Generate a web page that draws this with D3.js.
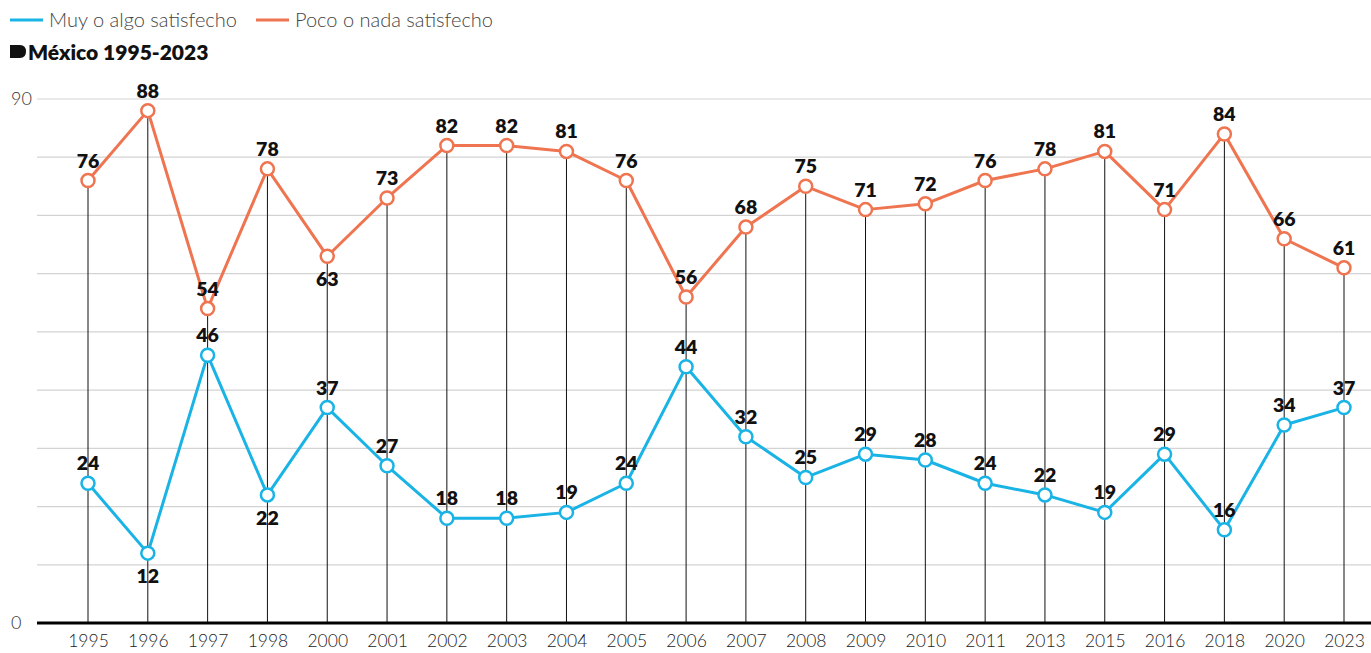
<!DOCTYPE html>
<html><head><meta charset="utf-8">
<script src="https://cdn.jsdelivr.net/npm/d3@7"></script>
<style>
html,body{margin:0;padding:0;background:#fff;}
svg{display:block;}
</style></head>
<body>
<svg id="chart" width="1371" height="653"></svg>
<script>
const years = ["1995","1996","1997","1998","2000","2001","2002","2003","2004","2005","2006","2007","2008","2009","2010","2011","2013","2015","2016","2018","2020","2023"];
const satisfied = [24,12,46,22,37,27,18,18,19,24,44,32,25,29,28,24,22,19,29,16,34,37];
const dissatisfied = [76,88,54,78,63,73,82,82,81,76,56,68,75,71,72,76,78,81,71,84,66,61];
const seriesNames = ["Muy o algo satisfecho","Poco o nada satisfecho"];
const colors = ["#1ab3e6","#ef7450"];
const yTicks = [0,90];
const gridValues = [0,10,20,30,40,50,60,70,80,90];
const title = "México 1995-2023";
// labels placed below the point: [seriesIndex, year]
const belowLabels = [[0,"1996"],[0,"1998"],[1,"2000"]];

const svg = d3.select("#chart");
const font = "Lato, 'Noto Sans', sans-serif";
const plotLeft = 37, plotRight = 1371, yTop = 99, yBottom = 623;

const x = d3.scalePoint().domain(years).range([88,1344]);
const y = d3.scaleLinear().domain([0,90]).range([yBottom,yTop]);

// grid
svg.append("g").selectAll("line").data(gridValues).join("line")
  .attr("x1",plotLeft).attr("x2",plotRight)
  .attr("y1",d=>y(d)).attr("y2",d=>y(d))
  .attr("stroke","#d3d3d3").attr("stroke-width",1.2);

// y tick labels
svg.append("g").selectAll("text").data(yTicks).join("text")
  .attr("x",11).attr("y",d=>y(d)+6)
  .attr("font-family",font).attr("font-size",18).attr("font-weight",300)
  .attr("fill","#333").text(d=>d);

// stems
svg.append("g").selectAll("line").data(years).join("line")
  .attr("x1",d=>x(d)).attr("x2",d=>x(d))
  .attr("y1",(d,i)=>y(Math.max(satisfied[i],dissatisfied[i])))
  .attr("y2",y(0))
  .attr("stroke","#111").attr("stroke-width",1);

// baseline
svg.append("line").attr("x1",plotLeft).attr("x2",plotRight)
  .attr("y1",y(0)).attr("y2",y(0)).attr("stroke","#000").attr("stroke-width",3);

// x axis labels
const xAxis = d3.axisBottom(x).tickSize(0).tickPadding(0);
const gx = svg.append("g").attr("transform",`translate(0,${y(0)})`).call(xAxis);
gx.select(".domain").remove();
gx.selectAll("text").attr("font-family",font).attr("font-size",17.5).attr("font-weight",300)
  .attr("fill","#222").attr("dy",null).attr("y",24);

const line = d3.line().x(d=>x(d.year)).y(d=>y(d.v));
[satisfied,dissatisfied].forEach((vals,si)=>{
  const data = years.map((yr,i)=>({year:yr,v:vals[i]}));
  svg.append("path").datum(data).attr("d",line)
    .attr("fill","none").attr("stroke",colors[si]).attr("stroke-width",3)
    .attr("stroke-linejoin","round");
  svg.append("g").selectAll("circle").data(data).join("circle")
    .attr("cx",d=>x(d.year)).attr("cy",d=>y(d.v)).attr("r",6.5)
    .attr("fill","#fff").attr("stroke",colors[si]).attr("stroke-width",2.5);
  svg.append("g").selectAll("text").data(data).join("text")
    .attr("x",d=>x(d.year))
    .attr("y",d=>{
      const below = belowLabels.some(b=>b[0]===si && b[1]===d.year);
      return below ? y(d.v)+30 : y(d.v)-13;
    })
    .attr("text-anchor","middle")
    .attr("font-family",font).attr("font-size",19.5).attr("font-weight",800)
    .attr("fill","#111").text(d=>d.v);
});

// legend
const legendX = [10,256];
seriesNames.forEach((n,i)=>{
  svg.append("line").attr("x1",legendX[i]).attr("x2",legendX[i]+33)
    .attr("y1",20).attr("y2",20).attr("stroke",colors[i]).attr("stroke-width",3);
  svg.append("text").attr("x",legendX[i]+39).attr("y",27)
    .attr("font-family",font).attr("font-size",20).attr("font-weight",300)
    .attr("fill","#444").text(n);
});

// title with icon
svg.append("path").attr("d","M10,45 L20,45 Q26,45 26,51.5 Q26,58 20,58 L10,58 Z").attr("fill","#111");
svg.append("text").attr("x",28).attr("y",60)
  .attr("font-family",font).attr("font-size",21).attr("font-weight",800)
  .attr("fill","#111").text(title);
</script>
</body></html>
